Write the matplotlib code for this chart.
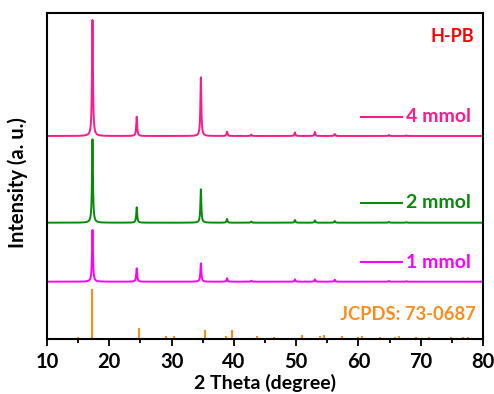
import numpy as np
import matplotlib
matplotlib.use("Agg")
import matplotlib.pyplot as plt

plt.rcParams['font.family'] = ['Lato', 'DejaVu Sans']
plt.rcParams['font.weight'] = 'bold'

# Diffraction peaks of each sample: positions (2θ, degree) and heights (a. u.)
peaks_4mmol_pos = [17.3, 24.4, 34.7, 38.9, 42.8, 49.8, 53.0, 56.2, 64.9, 67.7]
peaks_4mmol_h = [116.0, 19.3, 58.7, 4.3, 1.5, 3.5, 4.0, 2.0, 1.0, 0.6]

peaks_2mmol_pos = [17.3, 24.4, 34.7, 38.9, 42.8, 49.8, 53.0, 56.2, 64.9, 67.7]
peaks_2mmol_h = [83.4, 15.4, 33.4, 3.7, 1.2, 2.7, 2.3, 1.7, 0.8, 0.5]

peaks_1mmol_pos = [17.3, 24.4, 34.7, 38.9, 42.8, 49.8, 53.0, 56.2, 64.9, 67.7]
peaks_1mmol_h = [51.7, 13.4, 18.4, 3.4, 1.0, 2.3, 2.3, 2.0, 0.7, 0.5]

# Reference pattern JCPDS 73-0687
ref_pos = [15.0, 17.3, 24.8, 29.1, 30.4, 35.4, 38.8, 39.7, 43.7, 46.4, 50.9,
           53.8, 54.4, 57.4, 59.9, 60.5, 63.5, 65.9, 66.5, 69.3, 71.3, 74.8,
           76.8, 77.6]
ref_h = [2.5, 49.7, 11.0, 3.5, 3.5, 9.0, 3.0, 9.0, 3.0, 2.5, 4.0,
         3.5, 4.0, 3.0, 2.5, 3.0, 2.5, 2.5, 3.0, 2.5, 2.5, 2.5,
         2.5, 2.5]

# Vertical offsets of the stacked patterns
offsets = {'4 mmol': 203.0, '2 mmol': 116.3, '1 mmol': 57.3}
colors = {'4 mmol': '#FF1A8C', '2 mmol': '#0A8A0A', '1 mmol': '#FF00FF'}
ref_color = '#FF8C1A'

two_theta = np.linspace(10, 80, 7001)


def pattern(pos, h, width=0.09):
    y = np.zeros_like(two_theta)
    for p, a in zip(pos, h):
        y += a / (1 + ((two_theta - p) / width) ** 2)
    return y


fig = plt.figure(figsize=(4.94, 3.94), dpi=100)
ax = fig.add_axes([47 / 494, 1 - 339 / 394, 436 / 494, 326 / 394])

series = [('4 mmol', peaks_4mmol_pos, peaks_4mmol_h),
          ('2 mmol', peaks_2mmol_pos, peaks_2mmol_h),
          ('1 mmol', peaks_1mmol_pos, peaks_1mmol_h)]
for name, pos, h in series:
    ax.plot(two_theta, pattern(pos, h) + offsets[name], color=colors[name], lw=1.4)

ax.vlines(ref_pos, 0, ref_h, color=ref_color, lw=1.5)

ax.set_xlim(10, 80)
ax.set_ylim(0, 326)
ax.set_yticks([])
ax.set_xticks(np.arange(10, 81, 10))
ax.set_xticks(np.arange(15, 80, 10), minor=True)
ax.tick_params(axis='x', which='major', direction='out', length=5, width=1.3,
               labelsize=14.5, pad=4)
ax.tick_params(axis='x', which='minor', direction='out', length=3, width=1.3)
for s in ax.spines.values():
    s.set_linewidth(1.5)

ax.set_xlabel('2 Theta (degree)', fontsize=14, fontweight='bold')
ax.xaxis.set_label_coords(0.5, (339 - 374) / 326)
ax.set_ylabel('Intensity (a. u.)', fontsize=14.5, fontweight='bold')
ax.yaxis.set_label_coords(-19 / 436, (339 - 183) / 326)

# Sample legends beside each pattern
legend_y = {'4 mmol': 339 - 116.7, '2 mmol': 339 - 202.7, '1 mmol': 339 - 262.3}
for name, y in legend_y.items():
    yy = y / 326
    ax.plot([(361 - 47) / 436, (402 - 47) / 436], [yy, yy], color=colors[name],
            lw=1.5, transform=ax.transAxes)
    ax.text((406 - 47) / 436, yy, name, color=colors[name], fontsize=14,
            fontweight='bold', ha='left', va='center', transform=ax.transAxes)

ax.text((474 - 47) / 436, (339 - 36) / 326, 'H-PB', color='#FF0000', fontsize=13,
        fontweight='bold', ha='right', va='center', transform=ax.transAxes)
ax.text((476 - 47) / 436, (339 - 315) / 326, 'JCPDS: 73-0687', color=ref_color,
        fontsize=13.2, fontweight='bold', ha='right', va='center',
        transform=ax.transAxes)

fig.savefig('out.png', dpi=100)
